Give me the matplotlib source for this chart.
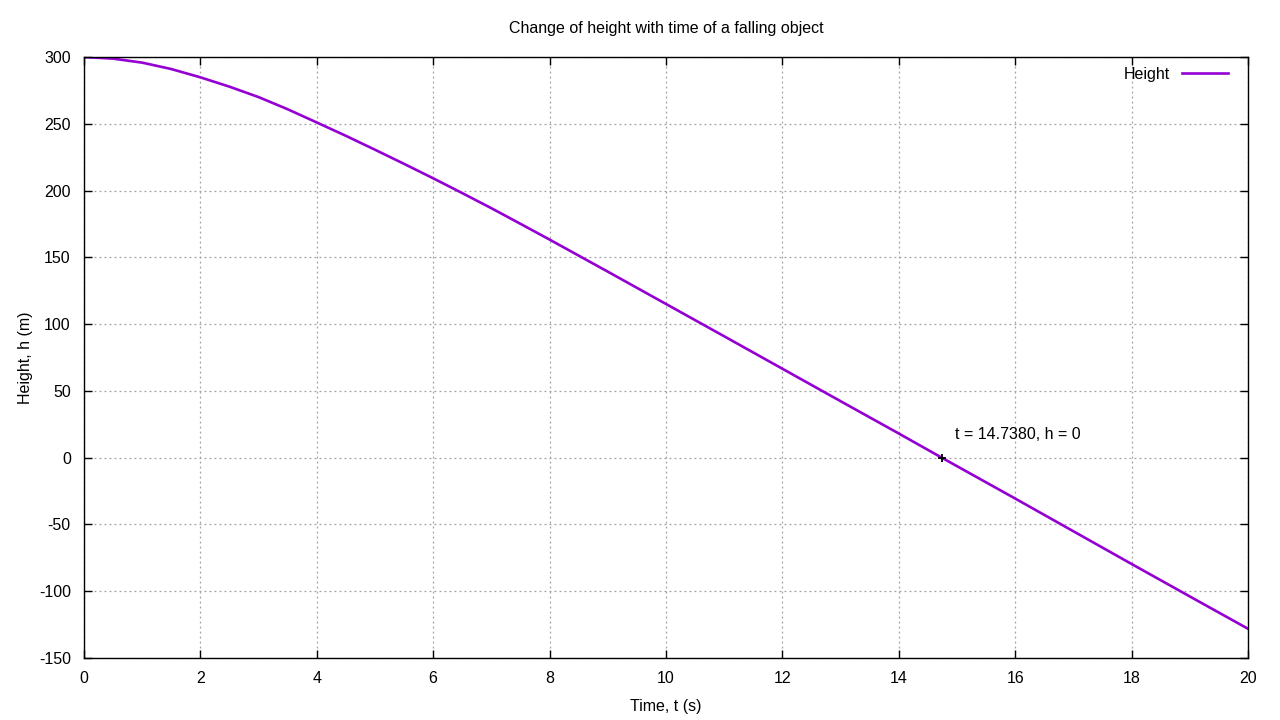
import matplotlib.pyplot as plt
import matplotlib

# values
time = [0, 0.5, 1, 1.5, 2, 2.5, 3, 3.5, 4, 4.5, 5, 5.5, 6, 6.5, 7, 7.5, 8, 9, 10, 11, 12, 13, 14,
        14.738, 16, 17, 18, 19, 20]
height = [300, 298.8, 295.8, 291.0, 284.8, 277.8, 270.0, 260.9, 251.0, 241.0, 230.6, 220.0,
          209.2, 198.1, 186.8, 175.1, 163.3, 139.3, 115.1, 90.9, 66.6, 42.3, 18.1,
          0.0, -30.6, -55.1, -79.6, -103.9, -128.1]

hit_t = 14.738
hit_h = 0
hit_label = "t = 14.7380, h = 0"


def main():
    matplotlib.rcParams['font.family'] = ['Liberation Sans', 'DejaVu Sans']
    matplotlib.rcParams['font.size'] = 11.5
    matplotlib.rcParams['axes.unicode_minus'] = False

    fig = plt.figure(figsize=(12.8, 7.2), dpi=100)
    ax = fig.add_axes([0.0656, 0.0861, 0.9094, 0.8347])

    ax.plot(time, height, color='#9400d3', lw=1.9, label='Height')
    ax.plot([hit_t], [hit_h], marker='+', color='black', ms=6, mew=1.3, ls='none')
    ax.text(14.97, 17.4, hit_label, fontsize=11.5, va='center', ha='left')

    ax.set_xlim(0, 20)
    ax.set_ylim(-150, 300)
    ax.set_xticks(range(0, 21, 2))
    ax.set_yticks(range(-150, 301, 50))
    ax.tick_params(direction='in', top=True, right=True, length=6, width=1, pad=9.5, labelsize=11.5)
    for s in ax.spines.values():
        s.set_linewidth(1)

    ax.grid(True, color='#a0a0a0', linestyle=(0, (1.5, 2.5)), linewidth=0.9)

    ax.set_title("Change of height with time of a falling object", fontsize=11.5, pad=17.5)
    ax.set_xlabel("Time, t (s)", fontsize=11.5, labelpad=9)
    ax.set_ylabel("Height, h (m)", fontsize=11.5, labelpad=4)

    ax.legend(loc='upper right', frameon=False, markerfirst=False, handlelength=2.9,
              handletextpad=0.7, fontsize=11.5, borderaxespad=0.2,
              bbox_to_anchor=(0.991, 1.0))

    fig.savefig('out.png', dpi=100)


if __name__ == "__main__":
    main()
